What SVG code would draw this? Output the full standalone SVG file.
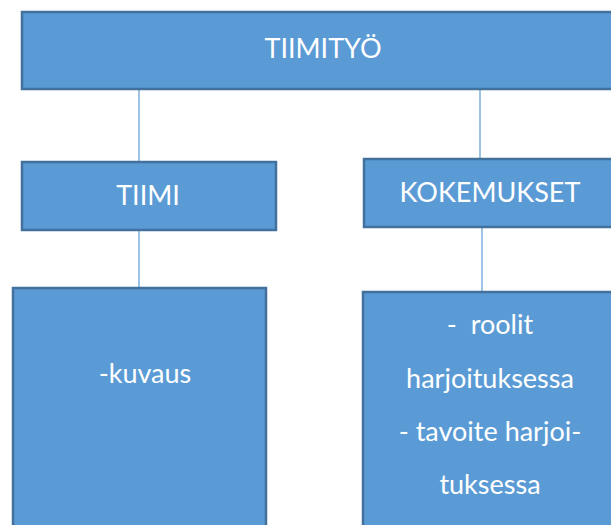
<svg xmlns="http://www.w3.org/2000/svg" width="611" height="525" viewBox="0 0 611 525">
<style>
.box{fill:#5b9bd5;stroke:#41719c;stroke-width:2.5}
.lbl{font-family:Lato,"Liberation Sans",sans-serif;font-size:27px;fill:#ffffff;text-anchor:middle;white-space:pre}
.con{stroke:#5b9bd5;stroke-width:1.2;fill:none}
</style>
<rect width="611" height="525" fill="#ffffff"/>
<g id="connectors">
<line class="con" x1="139" y1="89" x2="139" y2="162"/>
<line class="con" x1="480" y1="89" x2="480" y2="159"/>
<line class="con" x1="139" y1="230" x2="139" y2="288"/>
<line class="con" x1="482" y1="227" x2="482" y2="292"/>
</g>
<g id="tiimityo">
<rect class="box" x="22" y="12" width="600" height="77"/>
<text class="lbl" x="323" y="58">TIIMITYÖ</text>
</g>
<g id="tiimi">
<rect class="box" x="22" y="162" width="254" height="68"/>
<text class="lbl" x="148" y="205">TIIMI</text>
</g>
<g id="kokemukset">
<rect class="box" x="364" y="159" width="260" height="68"/>
<text class="lbl" x="490" y="202">KOKEMUKSET</text>
</g>
<g id="kuvaus">
<rect class="box" x="13" y="288" width="253" height="250"/>
<text class="lbl" x="145" y="383">-kuvaus</text>
</g>
<g id="roolit">
<rect class="box" x="363" y="292" width="260" height="250"/>
<text class="lbl" x="490" y="334">-  roolit</text>
<text class="lbl" x="490" y="388">harjoituksessa</text>
<text class="lbl" x="490" y="441">- tavoite harjoi-</text>
<text class="lbl" x="490" y="494">tuksessa</text>
</g>
</svg>
